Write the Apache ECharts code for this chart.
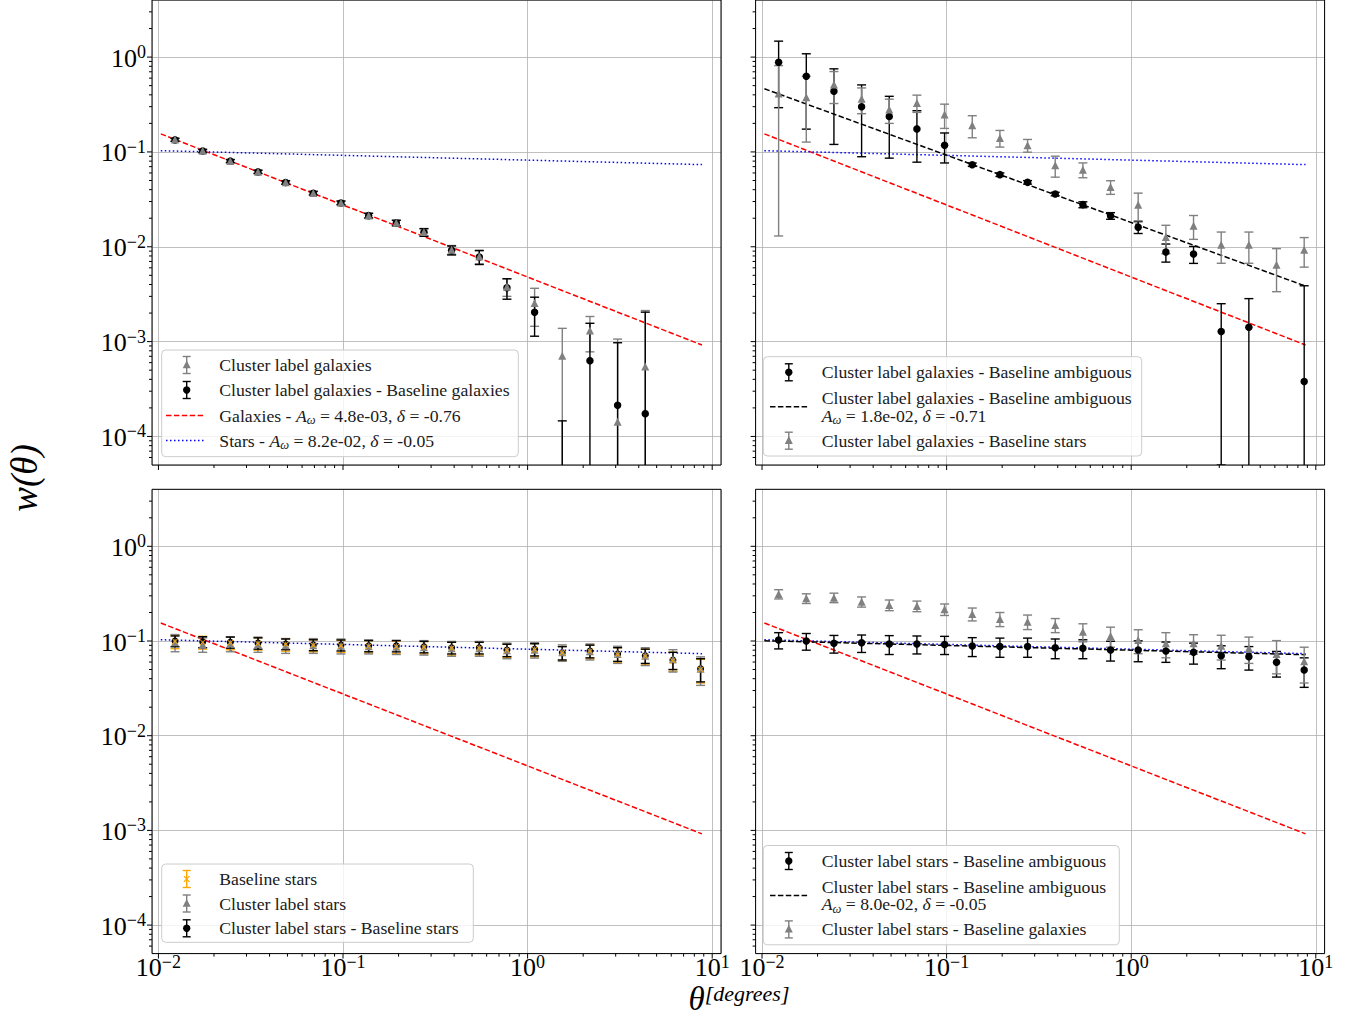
<!DOCTYPE html>
<html><head><meta charset="utf-8">
<script src="https://cdn.jsdelivr.net/npm/echarts@6/dist/echarts.min.js"></script>
<style>html,body{margin:0;padding:0;background:#fff}#c{width:1352px;height:1017px}</style>
</head><body><div id="c"></div>
<script>
// ---------------- data ----------------
const theta = [0.0123, 0.01737, 0.02452, 0.03463, 0.0489, 0.06904, 0.09749, 0.1377, 0.1944, 0.2745,
               0.3876, 0.5473, 0.7728, 1.091, 1.541, 2.176, 3.073, 4.339, 6.127, 8.651];

// top-left
const tlClusterGalV = [0.135, 0.103, 0.0803, 0.0619, 0.0478, 0.0369, 0.0292, 0.0214, 0.0179, 0.0143, 0.0093, 0.0079, 0.0038, 0.00255, 0.00071, 0.00131, 0.000143, 0.000545, null, null];
const tlClusterGalE = [0.005, 0.004, 0.003, 0.0025, 0.002, 0.0016, 0.0013, 0.0012, 0.0012, 0.0013, 0.001, 0.0013, 0.0008, 0.0011, 0.00067, 0.00053, 0.00092, 0.00158, null, null];
const tlDiffGalV = [0.134, 0.102, 0.0800, 0.0616, 0.0476, 0.0367, 0.0290, 0.0213, 0.0178, 0.0142, 0.0092, 0.0078, 0.0037, 0.00204, 0.00003, 0.00063, 0.000213, 0.000174, null, null];
const tlDiffGalE = [0.005, 0.004, 0.003, 0.0025, 0.002, 0.0016, 0.0013, 0.0012, 0.0012, 0.0013, 0.001, 0.0013, 0.0009, 0.0009, 0.000116, 0.00093, 0.00076, 0.00187, null, null];

// top-right
const trAmbV = [0.883, 0.629, 0.436, 0.299, 0.236, 0.175, 0.1175, 0.0734, 0.0576, 0.0478, 0.036, 0.0278, 0.0212, 0.0161, 0.00879, 0.00838, 0.00128, 0.00142, null, 0.00038];
const trAmbE = [0.59, 0.455, 0.316, 0.21, 0.15, 0.097, 0.041, 0.003, 0.0025, 0.002, 0.0015, 0.002, 0.0017, 0.0023, 0.0019, 0.0017, 0.00123, 0.00142, null, 0.0035];
const trStarsV = [0.413, 0.377, 0.514, 0.363, 0.28, 0.329, 0.248, 0.191, 0.1405, 0.1174, 0.0722, 0.065, 0.0427, 0.0278, 0.01265, 0.01667, 0.0105, 0.0105, 0.00646, 0.0093];
const trStarsE = [0.40, 0.25, 0.19, 0.11, 0.08, 0.068, 0.071, 0.05, 0.028, 0.018, 0.018, 0.0116, 0.007, 0.009, 0.0042, 0.0047, 0.0038, 0.0038, 0.0031, 0.0032];

// bottom-left
const blBaseStarsV = [0.099, 0.097, 0.096, 0.094, 0.092, 0.090, 0.089, 0.088, 0.087, 0.086, 0.084, 0.084, 0.080, 0.081, 0.075, 0.078, 0.072, 0.069, 0.062, 0.050];
const blBaseStarsE = [0.016, 0.015, 0.015, 0.014, 0.014, 0.013, 0.013, 0.013, 0.013, 0.013, 0.013, 0.013, 0.013, 0.013, 0.013, 0.013, 0.013, 0.013, 0.014, 0.014];
const blClusterStarsV = [0.097, 0.092, 0.094, 0.093, 0.090, 0.090, 0.089, 0.088, 0.087, 0.086, 0.084, 0.084, 0.080, 0.081, 0.076, 0.078, 0.073, 0.070, 0.064, 0.051];
const blClusterStarsE = [0.020, 0.016, 0.017, 0.017, 0.016, 0.016, 0.016, 0.015, 0.015, 0.015, 0.015, 0.015, 0.015, 0.015, 0.015, 0.015, 0.015, 0.015, 0.017, 0.017];
const blDiffStarsV = [0.100, 0.098, 0.097, 0.095, 0.093, 0.091, 0.0905, 0.089, 0.0888, 0.087, 0.085, 0.085, 0.0804, 0.0816, 0.0751, 0.0784, 0.073, 0.070, 0.063, 0.051];
const blDiffStarsE = [0.013, 0.013, 0.013, 0.013, 0.012, 0.012, 0.012, 0.012, 0.012, 0.012, 0.012, 0.012, 0.012, 0.012, 0.012, 0.012, 0.012, 0.012, 0.013, 0.014];

// bottom-right
const brAmbV = [0.1025, 0.100, 0.0945, 0.0957, 0.093, 0.093, 0.092, 0.0885, 0.0873, 0.0873, 0.085, 0.084, 0.0804, 0.0804, 0.0785, 0.076, 0.070, 0.0683, 0.0596, 0.0494];
const brAmbE = [0.02, 0.02, 0.02, 0.02, 0.021, 0.02, 0.02, 0.02, 0.02, 0.02, 0.02, 0.019, 0.019, 0.02, 0.019, 0.019, 0.019, 0.019, 0.018, 0.017];
const brGalV = [0.313, 0.282, 0.287, 0.26, 0.24, 0.234, 0.216, 0.193, 0.171, 0.16, 0.1476, 0.125, 0.113, 0.1025, 0.0945, 0.0945, 0.089, 0.084, 0.073, 0.061];
const brGalE = [0.035, 0.033, 0.033, 0.032, 0.031, 0.030, 0.030, 0.030, 0.029, 0.028, 0.025, 0.027, 0.027, 0.029, 0.028, 0.022, 0.026, 0.026, 0.028, 0.025];

// fitted power laws (end points)
const fitGalaxies = [[0.0103, 0.155], [8.8, 0.00092]];
const fitStars = [[0.0103, 0.1031], [8.8, 0.0735]];
const fitTR = [[0.0103, 0.464], [8.8, 0.00385]];
const fitBR = [[0.0103, 0.1006], [8.8, 0.0717]];

// axis ticks
const xMajor = [0.01, 0.1, 1, 10];
const xMinor = [0.02,0.03,0.04,0.05,0.06,0.07,0.08,0.09, 0.2,0.3,0.4,0.5,0.6,0.7,0.8,0.9, 2,3,4,5,6,7,8,9];
const yMajor = [1e-4, 1e-3, 1e-2, 1e-1, 1];
const yMinor = [6e-5,7e-5,8e-5,9e-5, 2e-4,3e-4,4e-4,5e-4,6e-4,7e-4,8e-4,9e-4, 2e-3,3e-3,4e-3,5e-3,6e-3,7e-3,8e-3,9e-3,
                0.02,0.03,0.04,0.05,0.06,0.07,0.08,0.09, 0.2,0.3,0.4,0.5,0.6,0.7,0.8,0.9, 2, 3];
const X_MIN = 0.00923, X_MAX = 11.16, Y_MIN = 5e-5, Y_MAX = 4;

// ---------------- helpers ----------------
const FONT = '"Liberation Serif","DejaVu Serif",serif';
const GREY = '#808080', ORANGE = '#FFA500';

function pts(vals) { return theta.map((t, i) => vals[i] == null ? null : [t, vals[i]]).filter(Boolean); }
function ebs(vals, errs) { return theta.map((t, i) => vals[i] == null ? null : [t, vals[i], errs[i]]).filter(Boolean); }

function errSeries(gi, vals, errs, color) {
  return {
    type: 'custom', xAxisIndex: gi, yAxisIndex: gi, clip: true, silent: true, z: 3,
    data: ebs(vals, errs),
    renderItem: function (params, api) {
      const x = api.value(0), v = api.value(1), e = api.value(2);
      const cs = params.coordSys;
      const bottom = cs.y + cs.height;
      const top = api.coord([x, v + e]);
      const px = top[0];
      const lo = v - e;
      let yLo, loCap = true;
      if (lo > 0) { yLo = api.coord([x, lo])[1]; } else { yLo = bottom + 5; loCap = false; }
      const hw = 4.5;
      const st = { stroke: color, lineWidth: 1.4 };
      const ch = [
        { type: 'line', shape: { x1: px, y1: top[1], x2: px, y2: yLo }, style: st },
        { type: 'line', shape: { x1: px - hw, y1: top[1], x2: px + hw, y2: top[1] }, style: st }
      ];
      if (loCap) ch.push({ type: 'line', shape: { x1: px - hw, y1: yLo, x2: px + hw, y2: yLo }, style: st });
      return { type: 'group', children: ch };
    }
  };
}
const XSYM = 'path://M0,1 L1,0 L5,4 L9,0 L10,1 L6,5 L10,9 L9,10 L5,6 L1,10 L0,9 L4,5 Z';
function markSeries(gi, vals, symbol, color, size, z) {
  return { type: 'scatter', xAxisIndex: gi, yAxisIndex: gi, symbol: symbol, symbolSize: size, z: z, silent: true,
    itemStyle: { color: color, opacity: 1 }, data: pts(vals), clip: true };
}
function lineSeries(gi, data, color, dash, z) {
  return { type: 'line', xAxisIndex: gi, yAxisIndex: gi, data: data, showSymbol: false, symbol: 'none', silent: true, z: z || 2,
    lineStyle: { color: color, width: 1.5, type: dash }, animation: false };
}
const DASH = [5.5, 2.4], DOT = [1.5, 2.5];

function tickSeries(gi) {
  const data = [];
  xMajor.forEach(v => data.push([v, Y_MIN, 0]));
  xMinor.forEach(v => data.push([v, Y_MIN, 1]));
  yMajor.forEach(v => data.push([X_MIN, v, 2]));
  yMinor.forEach(v => data.push([X_MIN, v, 3]));
  data.push([X_MIN, Y_MIN, 4]);
  return {
    type: 'custom', xAxisIndex: gi, yAxisIndex: gi, clip: false, silent: true, z: 10, data: data,
    renderItem: function (params, api) {
      const k = api.value(2);
      const p = api.coord([api.value(0), api.value(1)]);
      const cs = params.coordSys;
      const st = { stroke: '#000', lineWidth: 1 };
      const b = cs.y + cs.height, l = cs.x;
      if (k === 0) return { type: 'line', shape: { x1: p[0], y1: b, x2: p[0], y2: b + 5 }, style: st };
      if (k === 1) return { type: 'line', shape: { x1: p[0], y1: b, x2: p[0], y2: b + 3 }, style: st };
      if (k === 2) return { type: 'line', shape: { x1: l - 5, y1: p[1], x2: l, y2: p[1] }, style: st };
      if (k === 3) return { type: 'line', shape: { x1: l - 3, y1: p[1], x2: l, y2: p[1] }, style: st };
      return { type: 'rect', shape: { x: cs.x, y: cs.y, width: cs.width, height: cs.height }, style: { fill: 'none', stroke: '#000', lineWidth: 1 } };
    }
  };
}

function powLabel(value) {
  const l = Math.log10(value);
  const r = Math.round(l);
  if (Math.abs(l - r) > 1e-6) return '';
  return '{b|10}{s|' + (r < 0 ? '\u2212' + (-r) : r) + '}';
}
const TICK_RICH = {
  b: { fontFamily: FONT, fontSize: 26, lineHeight: 28, color: '#000', verticalAlign: 'bottom' },
  s: { fontFamily: FONT, fontSize: 18, lineHeight: 14, color: '#000', verticalAlign: 'top' }
};

const grids = [
  { left: 152, top: 0, width: 569, height: 465 },
  { left: 755.6, top: 0, width: 569, height: 465 },
  { left: 152, top: 489.3, width: 569, height: 464.3 },
  { left: 755.6, top: 489.3, width: 569, height: 464.3 }
];
const xAxes = grids.map((g, i) => ({
  type: 'log', logBase: 10, gridIndex: i, min: X_MIN, max: X_MAX,
  axisLine: { show: false }, axisTick: { show: false },
  axisLabel: { show: i >= 2, formatter: powLabel, margin: -1, rich: TICK_RICH, showMinLabel: true, showMaxLabel: true, hideOverlap: false },
  splitLine: { show: true, lineStyle: { color: '#b0b0b0', width: 0.8 } },
  minorTick: { show: false }, minorSplitLine: { show: false }
}));
const yAxes = grids.map((g, i) => ({
  type: 'log', logBase: 10, gridIndex: i, min: Y_MIN, max: Y_MAX,
  axisLine: { show: false }, axisTick: { show: false },
  axisLabel: { show: i % 2 === 0, formatter: powLabel, margin: 6, rich: TICK_RICH, hideOverlap: false },
  splitLine: { show: true, lineStyle: { color: '#b0b0b0', width: 0.8 } },
  minorTick: { show: false }, minorSplitLine: { show: false }
}));

const series = [];
// top-left
series.push(lineSeries(0, fitGalaxies, '#ff0000', DASH), lineSeries(0, fitStars, '#0000ff', DOT));
series.push(errSeries(0, tlClusterGalV, tlClusterGalE, GREY), errSeries(0, tlDiffGalV, tlDiffGalE, '#000'));
series.push(markSeries(0, tlDiffGalV, 'circle', '#000', 7.5, 4), markSeries(0, tlClusterGalV, 'triangle', GREY, 8, 5));
// top-right
series.push(lineSeries(1, fitGalaxies, '#ff0000', DASH), lineSeries(1, fitStars, '#0000ff', DOT), lineSeries(1, fitTR, '#000', DASH));
series.push(errSeries(1, trAmbV, trAmbE, '#000'), errSeries(1, trStarsV, trStarsE, GREY));
series.push(markSeries(1, trAmbV, 'circle', '#000', 7.5, 4), markSeries(1, trStarsV, 'triangle', GREY, 8, 5));
// bottom-left
series.push(lineSeries(2, fitGalaxies, '#ff0000', DASH), lineSeries(2, fitStars, '#0000ff', DOT));
series.push(errSeries(2, blBaseStarsV, blBaseStarsE, ORANGE), errSeries(2, blClusterStarsV, blClusterStarsE, GREY), errSeries(2, blDiffStarsV, blDiffStarsE, '#000'));
series.push(markSeries(2, blDiffStarsV, 'circle', '#000', 7, 4), markSeries(2, blClusterStarsV, 'triangle', GREY, 8, 5), markSeries(2, blBaseStarsV, XSYM, ORANGE, 6, 6));
// bottom-right
series.push(lineSeries(3, fitGalaxies, '#ff0000', DASH), lineSeries(3, fitStars, '#0000ff', DOT), lineSeries(3, fitBR, '#000', DASH));
series.push(errSeries(3, brAmbV, brAmbE, '#000'), errSeries(3, brGalV, brGalE, GREY));
series.push(markSeries(3, brAmbV, 'circle', '#000', 7.5, 4), markSeries(3, brGalV, 'triangle', GREY, 8, 5));
for (let i = 0; i < 4; i++) series.push(tickSeries(i));

// ---------------- legends (graphic) ----------------
const LFS = 17.7;
const LEG_RICH = {
  n: { fontFamily: FONT, fontSize: LFS, lineHeight: 22, fill: '#1a1a1a', color: '#1a1a1a', verticalAlign: 'middle' },
  i: { fontFamily: FONT, fontSize: LFS, lineHeight: 22, fontStyle: 'italic', fill: '#1a1a1a', color: '#1a1a1a', verticalAlign: 'middle' },
  sub: { fontFamily: FONT, fontSize: 12.5, lineHeight: 12, fontStyle: 'italic', fill: '#1a1a1a', color: '#1a1a1a', verticalAlign: 'bottom' }
};
function mathText(pre, A, d) { return (pre ? '{n|' + pre + '}' : '') + '{i|A}{sub|\u03c9}{n| = ' + A + ', }{i|\u03b4}{n| = ' + d + '}'; }
function txt(x, y, s) {
  return { type: 'text', x: x, y: y, z: 20, silent: true,
    style: { text: s, rich: LEG_RICH, fontFamily: FONT, fontSize: LFS, fill: '#1a1a1a', align: 'left', verticalAlign: 'middle', textAlign: 'left', textVerticalAlign: 'middle' } };
}
function box(x, y, w, h) {
  return { type: 'rect', z: 19, silent: true, shape: { x: x, y: y, width: w, height: h, r: 4 }, style: { fill: 'rgba(255,255,255,0.8)', stroke: '#cccccc', lineWidth: 1 } };
}
function ebHandle(cx, cy, color, marker) {
  const st = { stroke: color, lineWidth: 1.4 };
  const out = [
    { type: 'line', z: 20, shape: { x1: cx, y1: cy - 8.5, x2: cx, y2: cy + 8.5 }, style: st },
    { type: 'line', z: 20, shape: { x1: cx - 4, y1: cy - 8.5, x2: cx + 4, y2: cy - 8.5 }, style: st },
    { type: 'line', z: 20, shape: { x1: cx - 4, y1: cy + 8.5, x2: cx + 4, y2: cy + 8.5 }, style: st }
  ];
  if (marker === 'circle') out.push({ type: 'circle', z: 21, shape: { cx: cx, cy: cy, r: 3.7 }, style: { fill: color } });
  if (marker === 'triangle') out.push({ type: 'polygon', z: 21, shape: { points: [[cx, cy - 4.6], [cx + 4, cy + 3.2], [cx - 4, cy + 3.2]] }, style: { fill: color } });
  if (marker === 'x') out.push(
    { type: 'line', z: 21, shape: { x1: cx - 2.8, y1: cy - 2.8, x2: cx + 2.8, y2: cy + 2.8 }, style: { stroke: color, lineWidth: 1.2 } },
    { type: 'line', z: 21, shape: { x1: cx - 2.8, y1: cy + 2.8, x2: cx + 2.8, y2: cy - 2.8 }, style: { stroke: color, lineWidth: 1.2 } });
  return out;
}
function lnHandle(x1, x2, y, color, dash) {
  return [{ type: 'line', z: 20, shape: { x1: x1, y1: y, x2: x2, y2: y }, style: { stroke: color, lineWidth: 1.5, lineDash: dash } }];
}

const graphics = [];
// TL legend
graphics.push(box(161.7, 350, 356.6, 106.7));
graphics.push(...ebHandle(186.7, 365, GREY, 'triangle'), txt(219.3, 365, '{n|Cluster label galaxies}'));
graphics.push(...ebHandle(186.7, 390, '#000', 'circle'), txt(219.3, 390, '{n|Cluster label galaxies - Baseline galaxies}'));
graphics.push(...lnHandle(166, 204, 415.5, '#ff0000', DASH), txt(219.3, 415.5, mathText('Galaxies - ', '4.8e-03', '-0.76')));
graphics.push(...lnHandle(166, 204, 440.5, '#0000ff', DOT), txt(219.3, 440.5, mathText('Stars - ', '8.2e-02', '-0.05')));
// TR legend
graphics.push(box(763.3, 356.7, 378.4, 99.3));
graphics.push(...ebHandle(788.8, 372.3, '#000', 'circle'), txt(821.7, 372.3, '{n|Cluster label galaxies - Baseline ambiguous}'));
graphics.push(...lnHandle(770, 808, 406.7, '#000', DASH), txt(821.7, 398.3, '{n|Cluster label galaxies - Baseline ambiguous}'), txt(821.7, 415.7, mathText('', '1.8e-02', '-0.71')));
graphics.push(...ebHandle(788.8, 440.7, GREY, 'triangle'), txt(821.7, 440.7, '{n|Cluster label galaxies - Baseline stars}'));
// BL legend
graphics.push(box(161.7, 864, 311.6, 78.3));
graphics.push(...ebHandle(186.7, 879, ORANGE, 'x'), txt(219.3, 879, '{n|Baseline stars}'));
graphics.push(...ebHandle(186.7, 903.5, GREY, 'triangle'), txt(219.3, 903.5, '{n|Cluster label stars}'));
graphics.push(...ebHandle(186.7, 928.3, '#000', 'circle'), txt(219.3, 928.3, '{n|Cluster label stars - Baseline stars}'));
// BR legend
graphics.push(box(763.3, 845.5, 356, 99.3));
graphics.push(...ebHandle(788.8, 861, '#000', 'circle'), txt(821.7, 861, '{n|Cluster label stars - Baseline ambiguous}'));
graphics.push(...lnHandle(770, 808, 895.4, '#000', DASH), txt(821.7, 887, '{n|Cluster label stars - Baseline ambiguous}'), txt(821.7, 904.4, mathText('', '8.0e-02', '-0.05')));
graphics.push(...ebHandle(788.8, 929.4, GREY, 'triangle'), txt(821.7, 929.4, '{n|Cluster label stars - Baseline galaxies}'));

// axis titles
graphics.push({ type: 'text', x: 24, y: 478, rotation: Math.PI / 2, z: 20, silent: true,
  style: { text: 'w(\u03b8)', fontFamily: FONT, fontSize: 37, fontStyle: 'italic', fill: '#000', align: 'center', verticalAlign: 'middle', textAlign: 'center', textVerticalAlign: 'middle' } });
graphics.push({ type: 'text', x: 739, y: 998.5, z: 20, silent: true,
  style: { text: '{t|\u03b8}{s|[degrees]}', align: 'center', verticalAlign: 'middle', textAlign: 'center', textVerticalAlign: 'middle',
    rich: {
      t: { fontFamily: FONT, fontSize: 33, lineHeight: 33, fontStyle: 'italic', fill: '#000', verticalAlign: 'bottom' },
      s: { fontFamily: FONT, fontSize: 22, lineHeight: 20, fontStyle: 'italic', fill: '#000', verticalAlign: 'top' }
    } } });

const chart = echarts.init(document.getElementById('c'), null, { renderer: 'svg', width: 1352, height: 1017 });
chart.setOption({
  animation: false,
  backgroundColor: '#ffffff',
  grid: grids.map(g => Object.assign({ containLabel: false, show: false }, g)),
  xAxis: xAxes,
  yAxis: yAxes,
  series: series,
  graphic: { elements: graphics }
});
</script>
</body></html>
